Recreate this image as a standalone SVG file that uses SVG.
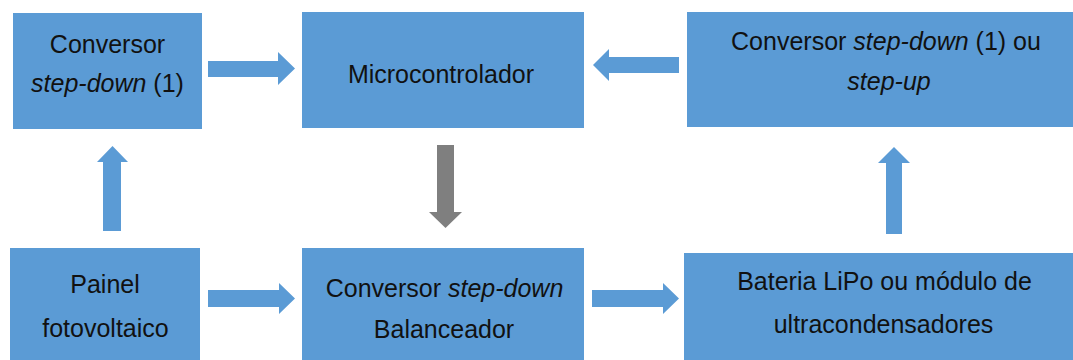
<svg xmlns="http://www.w3.org/2000/svg" width="1073" height="360" viewBox="0 0 1073 360">
  <style>
    .box { fill: #5B9BD5; }
    .lbl { font-family: "Liberation Sans", Arial, sans-serif; font-size: 25px; fill: #111111; text-anchor: middle; }
    .it { font-style: italic; }
    .arr { fill: #5B9BD5; }
    .arr-gray { fill: #7F7F7F; }
  </style>
  <rect width="1073" height="360" fill="#FFFFFF"/>

  <g id="conv-sd1">
    <rect class="box" x="13" y="13" width="189" height="116"/>
    <text class="lbl" x="107.5" y="53">Conversor</text>
    <text class="lbl" x="107.5" y="92"><tspan class="it">step-down</tspan> (1)</text>
  </g>

  <g id="micro">
    <rect class="box" x="302" y="12" width="282" height="116"/>
    <text class="lbl" x="441" y="83">Microcontrolador</text>
  </g>

  <g id="conv-sd-su">
    <rect class="box" x="687" y="12" width="386" height="115"/>
    <text class="lbl" x="886" y="50">Conversor <tspan class="it">step-down</tspan> (1) ou</text>
    <text class="lbl it" x="889" y="90">step-up</text>
  </g>

  <g id="painel">
    <rect class="box" x="10" y="248" width="190" height="112"/>
    <text class="lbl" x="105" y="293">Painel</text>
    <text class="lbl" x="105.5" y="337">fotovoltaico</text>
  </g>

  <g id="balanceador">
    <rect class="box" x="302" y="248" width="282" height="112"/>
    <text class="lbl" x="444.5" y="297">Conversor <tspan class="it">step-down</tspan></text>
    <text class="lbl" x="444" y="338">Balanceador</text>
  </g>

  <g id="bateria">
    <rect class="box" x="684" y="253" width="389" height="107"/>
    <text class="lbl" x="884.5" y="290">Bateria LiPo ou módulo de</text>
    <text class="lbl" x="883.5" y="333">ultracondensadores</text>
  </g>

  <g id="connectors">
    <!-- Conversor step-down (1) to Microcontrolador -->
    <polygon class="arr" points="208,61 278,61 278,52 295,68.5 278,85 278,77 208,77"/>
    <!-- step-down/step-up converter to Microcontrolador -->
    <polygon class="arr" points="679,57 609,57 609,49 593,65 609,81 609,73 679,73"/>
    <!-- Microcontrolador to balancer -->
    <polygon class="arr-gray" points="437,145 454,145 454,212 462,212 445.5,228 429,212 437,212"/>
    <!-- Painel to Conversor step-down (1) -->
    <polygon class="arr" points="103,231 103,162 97,162 112.5,146 128,162 121,162 121,231"/>
    <!-- Bateria to step-down/step-up converter -->
    <polygon class="arr" points="886,234 886,163 878,163 894,147 910,163 902,163 902,234"/>
    <!-- Painel to balancer -->
    <polygon class="arr" points="208,290 279,290 279,283 295,298.5 279,314 279,307 208,307"/>
    <!-- balancer to Bateria -->
    <polygon class="arr" points="592,290 663,290 663,283 679,298.5 663,314 663,307 592,307"/>
  </g>
</svg>
